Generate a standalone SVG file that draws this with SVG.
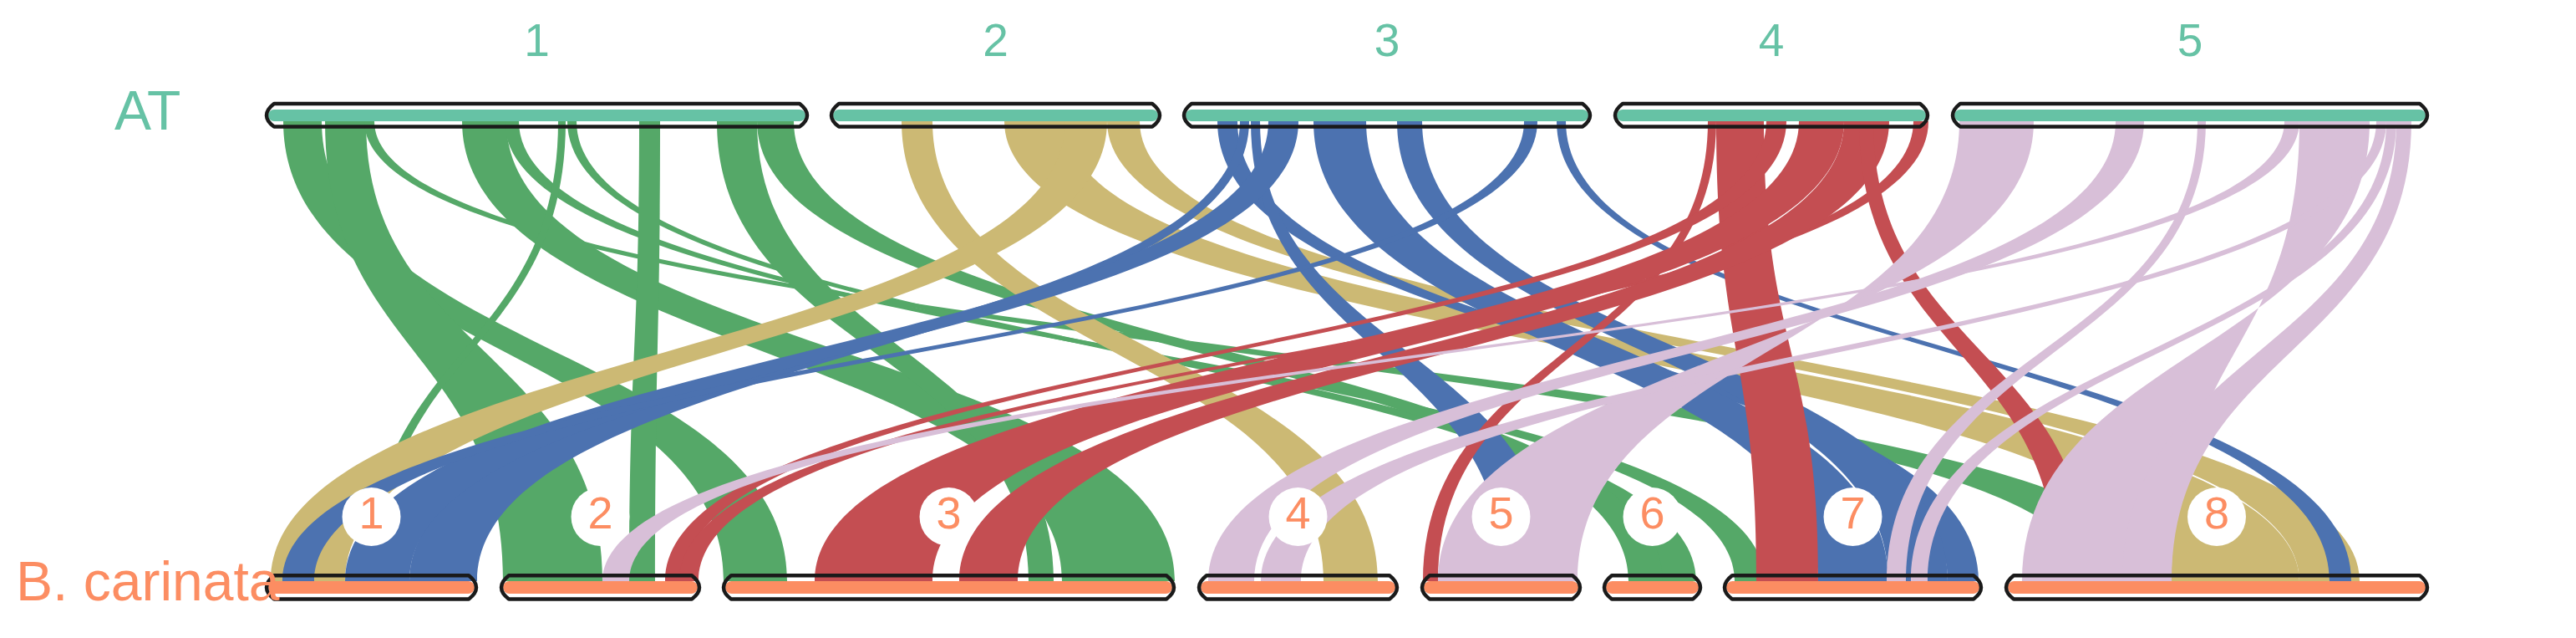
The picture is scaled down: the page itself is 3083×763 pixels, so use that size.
<svg xmlns="http://www.w3.org/2000/svg" width="3083" height="763" viewBox="0 0 3083 763">
<style>
.g{fill:#55a868}.y{fill:#ccb974}.b{fill:#4c72b0}.r{fill:#c44e52}.l{fill:#d8bfd8}
.ol{fill:none;stroke:#1a1a1a;stroke-width:4.5;stroke-linejoin:round}
.ft{fill:#66c2a5}.fb{fill:#fc8d62}
.tl{font-family:"Liberation Sans",Arial,sans-serif;fill:#66c2a5;font-size:55px;text-anchor:middle}
.bl{font-family:"Liberation Sans",Arial,sans-serif;fill:#fc8d62;font-size:54px;text-anchor:middle}
.gn{font-family:"Liberation Sans",Arial,sans-serif;font-size:66px}
.circ{fill:#ffffff}
</style>
<rect width="3083" height="763" fill="#ffffff"/>
<g id="connectors">
<path class="g" d="M339 145C339 420 866 420 866 695L942 695C942 420 385 420 385 145Z"/>
<path class="g" d="M389 145C389 420 602 420 602 695L721 695C721 420 438 420 438 145Z"/>
<path class="g" d="M436 145C436 420 2500 420 2500 695L2590 695C2590 420 448 420 448 145Z"/>
<path class="g" d="M553 145C553 420 1271 420 1271 695L1406 695C1406 420 606 420 606 145Z"/>
<path class="g" d="M604 145C604 420 2076 420 2076 695L2112 695C2112 420 621 420 621 145Z"/>
<path class="g" d="M668 145C668 420 440 420 440 695L452 695C452 420 677 420 677 145Z"/>
<path class="g" d="M679 145C679 420 1986 420 1986 695L2030 695C2030 420 690 420 690 145Z"/>
<path class="g" d="M765 145C765 420 753 420 753 695L784 695C784 420 790 420 790 145Z"/>
<path class="g" d="M858 145C858 420 1231 420 1231 695L1261 695C1261 420 906 420 906 145Z"/>
<path class="g" d="M906 145C906 420 1949 420 1949 695L1990 695C1990 420 950 420 950 145Z"/>
<path class="y" d="M1079 145C1079 420 1584 420 1584 695L1649 695C1649 420 1116 420 1116 145Z"/>
<path class="y" d="M1202 145C1202 420 2599 420 2599 695L2752 695C2752 420 1275 420 1275 145Z"/>
<path class="y" d="M1275 145C1275 420 324 420 324 695L413 695C413 420 1325 420 1325 145Z"/>
<path class="y" d="M1325 145C1325 420 2752 420 2752 695L2824 695C2824 420 1364 420 1364 145Z"/>
<path class="b" d="M1457 145C1457 420 2331 420 2331 695L2368 695C2368 420 1481 420 1481 145Z"/>
<path class="b" d="M1484 145C1484 420 490 420 490 695L571 695C571 420 1495 420 1495 145Z"/>
<path class="b" d="M1497 145C1497 420 1800 420 1800 695L1860 695C1860 420 1508 420 1508 145Z"/>
<path class="b" d="M1518 145C1518 420 413 420 413 695L490 695C490 420 1554 420 1554 145Z"/>
<path class="b" d="M1572 145C1572 420 2176 420 2176 695L2260 695C2260 420 1635 420 1635 145Z"/>
<path class="b" d="M1672 145C1672 420 2260 420 2260 695L2331 695C2331 420 1702 420 1702 145Z"/>
<path class="b" d="M1824 145C1824 420 338 420 338 695L376 695C376 420 1840 420 1840 145Z"/>
<path class="b" d="M1863 145C1863 420 2788 420 2788 695L2814 695C2814 420 1874 420 1874 145Z"/>
<path class="r" d="M2054 145C2054 420 2102 420 2102 695L2176 695C2176 420 2111 420 2111 145Z"/>
<path class="r" d="M2044 145C2044 420 1703 420 1703 695L1721 695C1721 420 2054 420 2054 145Z"/>
<path class="r" d="M2114 145C2114 420 796 420 796 695L817 695C817 420 2138 420 2138 145Z"/>
<path class="r" d="M2290 145C2290 420 813 420 813 695L836 695C836 420 2308 420 2308 145Z"/>
<path class="r" d="M2153 145C2153 420 975 420 975 695L1116 695C1116 420 2207 420 2207 145Z"/>
<path class="r" d="M2207 145C2207 420 1148 420 1148 695L1218 695C1218 420 2261 420 2261 145Z"/>
<path class="r" d="M2225 145C2225 420 2462 420 2462 695L2500 695C2500 420 2242 420 2242 145Z"/>
<path class="l" d="M2345 145C2345 420 1888 420 1888 695L1721 695C1721 420 2434 420 2434 145Z"/>
<path class="l" d="M2532 145C2532 420 1446 420 1446 695L1501 695C1501 420 2566 420 2566 145Z"/>
<path class="l" d="M2630 145C2630 420 2258 420 2258 695L2281 695C2281 420 2640 420 2640 145Z"/>
<path class="l" d="M2734 145C2734 420 721 420 721 695L753 695C753 420 2752 420 2752 145Z"/>
<path class="l" d="M2752 145C2752 420 2599 420 2599 695L2420 695C2420 420 2836 420 2836 145Z"/>
<path class="l" d="M2844 145C2844 420 1509 420 1509 695L1557 695C1557 420 2856 420 2856 145Z"/>
<path class="l" d="M2856 145C2856 420 2287 420 2287 695L2307 695C2307 420 2868 420 2868 145Z"/>
<path class="l" d="M2868 145C2868 420 2540 420 2540 695L2599 695C2599 420 2886 420 2886 145Z"/>
</g>
<g id="AT-1"><rect class="ft" x="321" y="131" width="643" height="14" rx="7"/><path class="ol" d="M328 124H957Q975 138 957 151.5H328Q310 138 328 124Z"/><text class="tl" x="642.5" y="67">1</text></g>
<g id="AT-2"><rect class="ft" x="997" y="131" width="389" height="14" rx="7"/><path class="ol" d="M1004 124H1379Q1397 138 1379 151.5H1004Q986 138 1004 124Z"/><text class="tl" x="1191.5" y="67">2</text></g>
<g id="AT-3"><rect class="ft" x="1419" y="131" width="482" height="14" rx="7"/><path class="ol" d="M1426 124H1894Q1912 138 1894 151.5H1426Q1408 138 1426 124Z"/><text class="tl" x="1660" y="67">3</text></g>
<g id="AT-4"><rect class="ft" x="1935" y="131" width="370" height="14" rx="7"/><path class="ol" d="M1942 124H2298Q2316 138 2298 151.5H1942Q1924 138 1942 124Z"/><text class="tl" x="2120" y="67">4</text></g>
<g id="AT-5"><rect class="ft" x="2339" y="131" width="564" height="14" rx="7"/><path class="ol" d="M2346 124H2896Q2914 138 2896 151.5H2346Q2328 138 2346 124Z"/><text class="tl" x="2621" y="67">5</text></g>
<g id="BC-1"><rect class="fb" x="321" y="695" width="247" height="15" rx="7.5"/><path class="ol" d="M328 688.3H561Q579 702.4 561 716.5H328Q310 702.4 328 688.3Z"/><circle class="circ" cx="444.5" cy="618" r="35"/><text class="bl" x="444.5" y="632">1</text></g>
<g id="BC-2"><rect class="fb" x="602" y="695" width="233" height="15" rx="7.5"/><path class="ol" d="M609 688.3H828Q846 702.4 828 716.5H609Q591 702.4 609 688.3Z"/><circle class="circ" cx="718.5" cy="618" r="35"/><text class="bl" x="718.5" y="632">2</text></g>
<g id="BC-3"><rect class="fb" x="868" y="695" width="535" height="15" rx="7.5"/><path class="ol" d="M875 688.3H1396Q1414 702.4 1396 716.5H875Q857 702.4 875 688.3Z"/><circle class="circ" cx="1135.5" cy="618" r="35"/><text class="bl" x="1135.5" y="632">3</text></g>
<g id="BC-4"><rect class="fb" x="1437" y="695" width="233" height="15" rx="7.5"/><path class="ol" d="M1444 688.3H1663Q1681 702.4 1663 716.5H1444Q1426 702.4 1444 688.3Z"/><circle class="circ" cx="1553.5" cy="618" r="35"/><text class="bl" x="1553.5" y="632">4</text></g>
<g id="BC-5"><rect class="fb" x="1704" y="695" width="185" height="15" rx="7.5"/><path class="ol" d="M1711 688.3H1882Q1900 702.4 1882 716.5H1711Q1693 702.4 1711 688.3Z"/><circle class="circ" cx="1796.5" cy="618" r="35"/><text class="bl" x="1796.5" y="632">5</text></g>
<g id="BC-6"><rect class="fb" x="1922" y="695" width="111" height="15" rx="7.5"/><path class="ol" d="M1929 688.3H2026Q2044 702.4 2026 716.5H1929Q1911 702.4 1929 688.3Z"/><circle class="circ" cx="1977.5" cy="618" r="35"/><text class="bl" x="1977.5" y="632">6</text></g>
<g id="BC-7"><rect class="fb" x="2066" y="695" width="303" height="15" rx="7.5"/><path class="ol" d="M2073 688.3H2362Q2380 702.4 2362 716.5H2073Q2055 702.4 2073 688.3Z"/><circle class="circ" cx="2217.5" cy="618" r="35"/><text class="bl" x="2217.5" y="632">7</text></g>
<g id="BC-8"><rect class="fb" x="2403" y="695" width="500" height="15" rx="7.5"/><path class="ol" d="M2410 688.3H2896Q2914 702.4 2896 716.5H2410Q2392 702.4 2410 688.3Z"/><circle class="circ" cx="2653" cy="618" r="35"/><text class="bl" x="2653" y="632">8</text></g>
<g id="genome-labels">
<text class="gn" x="137" y="155" fill="#66c2a5">AT</text>
<text class="gn" x="19" y="718" fill="#fc8d62">B. carinata</text>
</g>
</svg>
